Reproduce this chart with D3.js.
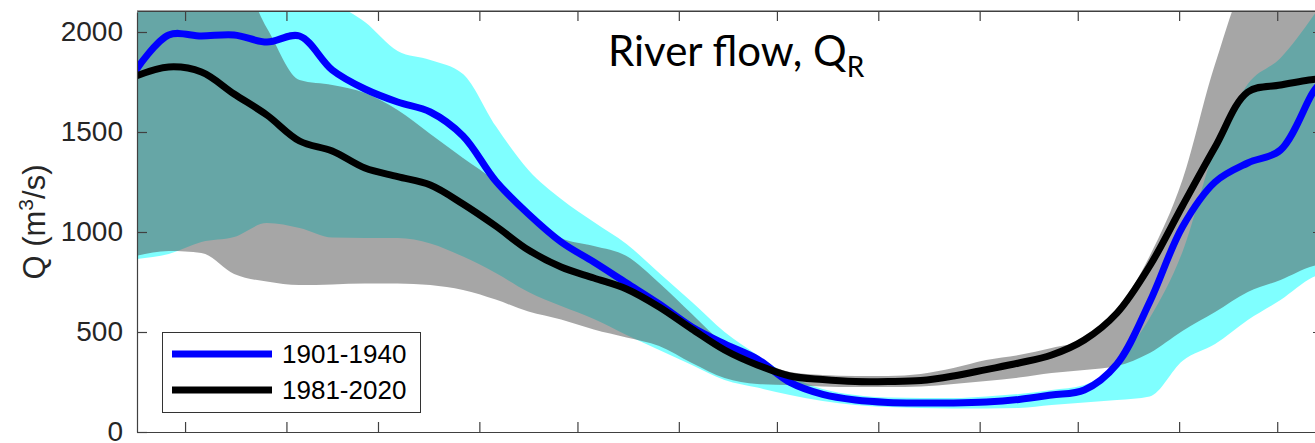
<!DOCTYPE html>
<html><head><meta charset="utf-8">
<script src="https://cdn.jsdelivr.net/npm/d3@7"></script>
<style>body{margin:0;background:#fff;} svg{display:block}</style>
</head><body><svg id="c" width="1315" height="443"></svg>
<script>
// day of year (0 = 1 Jan)
const days = [-15,-5,5,15,25,35,45,55,65,75,85,95,105,115,125,135,145,155,165,175,185,195,205,215,225,235,245,255,265,275,285,295,305,315,325,335,345,348];
// median flow lines
const flow1901 = [1810,1985,1980,1985,1950,1980,1810,1715,1650,1600,1480,1255,1090,950,850,745,640,525,440,365,248,188,160,148,145,145,150,163,185,210,340,650,1025,1250,1345,1410,1700,1760];
const flow1981 = [1780,1825,1800,1690,1585,1455,1405,1320,1277,1235,1140,1030,910,825,770,715,625,515,410,335,280,262,252,252,257,280,312,345,385,460,595,830,1130,1425,1700,1735,1763,1763];
// spread bands
const band1901Upper = [2300,2300,2300,2300,2300,2250,2150,2050,1905,1860,1790,1530,1310,1165,1050,940,795,650,500,385,280,215,185,172,170,170,178,190,210,235,350,570,900,1420,1740,1870,2080,2150];
const band1901Lower = [865,890,950,975,1045,1020,972,970,970,943,877,795,700,630,565,485,410,335,260,222,185,155,135,125,120,118,118,120,135,148,160,178,355,440,560,660,775,795];
const band1981Upper = [2300,2300,2300,2300,2020,1760,1735,1695,1610,1490,1370,1250,1080,970,930,880,745,590,440,360,300,285,280,280,290,320,360,385,420,465,610,880,1260,1840,2250,2300,2300,2300];
const band1981Lower = [880,905,895,790,752,735,738,742,743,735,710,662,602,562,512,472,430,345,270,240,235,228,225,225,228,240,255,272,295,310,330,395,505,600,700,760,830,840];
const monthTicks = [0,31,59,90,120,151,181,212,243,273,304,334];
const yTicks = [0,500,1000,1500,2000];
const legendLabels = ["1901-1940","1981-2020"];
const lineColors = ["#0000ff","#000000"];

const svg = d3.select("#c");
const L=137, R=1323, T=12, B=432;
const x = d3.scaleLinear().domain([-14.7, 348]).range([L, R]);
const y = d3.scaleLinear().domain([0, 2100]).range([B, T]);

svg.append("defs").append("clipPath").attr("id","clip")
  .append("rect").attr("x",L).attr("y",T).attr("width",R-L).attr("height",B-T);

const g = svg.append("g").attr("clip-path","url(#clip)");
const area = (lo, hi) => d3.area().x((d,i)=>x(days[i])).y0((d,i)=>y(lo[i])).y1((d,i)=>y(hi[i])).curve(d3.curveMonotoneX)(days);
g.append("path").attr("d", area(band1901Lower, band1901Upper)).attr("fill","#00ffff").attr("fill-opacity",0.5);
g.append("path").attr("d", area(band1981Lower, band1981Upper)).attr("fill","#4d4d4d").attr("fill-opacity",0.5);

const line = d3.line().x((d,i)=>x(days[i])).y(d=>y(d)).curve(d3.curveCatmullRom);
[flow1901, flow1981].forEach((s,k)=>{
  g.append("path").attr("d", line(s)).attr("fill","none").attr("stroke",lineColors[k])
   .attr("stroke-width",7).attr("stroke-linejoin","round").attr("stroke-linecap","round");
});

const axCol = "#404040";
function style(sel){
  sel.selectAll("path,line").attr("stroke",axCol).attr("stroke-width",1.2);
  sel.selectAll("text").attr("fill","#262626").style("font-family","'Liberation Sans', Arial, sans-serif").style("font-size","28px");
}
svg.append("g").attr("transform",`translate(0,${B})`).call(d3.axisBottom(x).tickValues(monthTicks).tickSize(-10).tickSizeOuter(0).tickFormat("")).call(style);
svg.append("g").attr("transform",`translate(0,${T-1})`).call(d3.axisTop(x).tickValues(monthTicks).tickSize(-10).tickSizeOuter(0).tickFormat("")).call(style);
svg.append("g").attr("transform",`translate(${L},0)`).call(d3.axisLeft(y).tickValues(yTicks).tickSize(-10).tickSizeOuter(0).tickPadding(14).tickFormat(d3.format("d"))).call(style);
svg.append("g").attr("transform",`translate(${R},0)`).call(d3.axisRight(y).tickValues(yTicks).tickSize(-10).tickSizeOuter(0).tickFormat("")).call(style);
svg.append("line").attr("x1",L).attr("x2",R).attr("y1",T-1).attr("y2",T-1).attr("stroke",axCol).attr("stroke-width",1.2);

// y label
const yl = svg.append("text").attr("transform","translate(45,222) rotate(-90)").attr("text-anchor","middle")
  .style("font-family","'Liberation Sans', Arial, sans-serif").style("font-size","31px").attr("fill","#262626");
yl.append("tspan").text("Q (m");
yl.append("tspan").attr("dy",-12).style("font-size","21px").text("3");
yl.append("tspan").attr("dy",12).text("/s)");

// title
const tt = svg.append("text").attr("x",608).attr("y",66).style("font-family","Lato, 'Open Sans', sans-serif").style("font-size","42px").attr("fill","#000");
tt.append("tspan").text("River flow, Q");
tt.append("tspan").attr("dy",11).style("font-size","28px").text("R");

// legend
const lg = svg.append("g");
lg.append("rect").attr("x",162.5).attr("y",332.5).attr("width",258).attr("height",80).attr("fill","#fff").attr("stroke","#333").attr("stroke-width",1);
legendLabels.forEach((lab,k)=>{
  const yy = 354 + k*36;
  lg.append("line").attr("x1",172).attr("x2",272).attr("y1",yy).attr("y2",yy).attr("stroke",lineColors[k]).attr("stroke-width",7);
  lg.append("text").attr("x",282).attr("y",yy).attr("dy","0.36em").text(lab)
    .style("font-family","'Liberation Sans', Arial, sans-serif").style("font-size","26px").attr("fill","#000");
});
</script></body></html>
